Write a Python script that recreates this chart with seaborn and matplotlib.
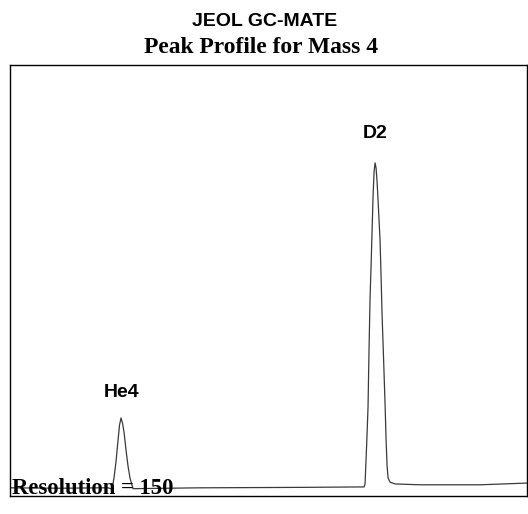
import matplotlib
matplotlib.use("Agg")
import matplotlib.pyplot as plt
import seaborn as sns
import pandas as pd

# Mass axis (amu) and relative intensity
mass = [3.99140, 3.99644, 4.00047, 4.00128,
        4.00168, 4.00188, 4.00208, 4.00229, 4.00244, 4.00259, 4.00274,
        4.00289, 4.00309, 4.00329, 4.00349, 4.00380,
        4.01055, 4.02063, 4.02668,
        4.02708, 4.02718, 4.02728, 4.02738, 4.02748, 4.02758, 4.02768,
        4.02779, 4.02789, 4.02799, 4.02809, 4.02819, 4.02829, 4.02839,
        4.02849, 4.02859, 4.02869, 4.02879, 4.02889, 4.02900, 4.02910,
        4.02920, 4.02930, 4.02940, 4.02950, 4.02970, 4.03020, 4.03272,
        4.03877, 4.04351]
intensity = [1.9, 1.8, 1.9, 1.9,
             1.6, 4.2, 7.9, 13.0, 16.5, 18.1, 16.9,
             14.8, 10.7, 7.0, 4.2, 1.7,
             1.9, 2.0, 2.1,
             2.1, 2.8, 8.4, 14.2, 20.6, 33.9, 45.5,
             53.6, 61.7, 69.8, 75.2, 77.3, 76.1, 72.9,
             68.7, 64.0, 59.4, 51.3, 42.5, 35.0, 28.1,
             21.1, 13.0, 7.0, 4.2, 3.2, 2.8, 2.6,
             2.6, 3.0]

peak_names = ["He4", "D2"]
peak_mass = [4.0026, 4.0282]
label_height = [23.9, 84.0]

title_top = "JEOL GC-MATE"
title_main = "Peak Profile for Mass 4"
note = "Resolution = 150"

df = pd.DataFrame({"mass": mass, "intensity": intensity})

sns.set_style("white")
plt.rcParams["font.family"] = ["Liberation Sans", "DejaVu Sans"]
plt.rcParams["text.color"] = "black"

W, H = 528, 514
fig = plt.figure(figsize=(W / 100, H / 100), dpi=100)
ax = fig.add_axes([10 / W, (H - 496) / H, 517 / W, 431 / H])

sns.lineplot(data=df, x="mass", y="intensity", ax=ax, color="#3a3a3a",
             linewidth=0.9, sort=False, estimator=None)

ax.set_xlim(3.9914, 4.0435)
ax.set_ylim(0, 100)
ax.set_xticks([])
ax.set_yticks([])
ax.set_xlabel("")
ax.set_ylabel("")
for s in ax.spines.values():
    s.set_visible(True)
    s.set_color("black")
    s.set_linewidth(1.0)

for name, m, h in zip(peak_names, peak_mass, label_height):
    ax.text(m, h, name, ha="center", va="center", fontsize=14,
            fontweight="bold", color="black",
            family=["Liberation Sans", "DejaVu Sans"])

ax.text(0.004, 0.005, note, transform=ax.transAxes, ha="left", va="baseline",
        fontsize=16.3, fontweight="bold", color="black",
        family=["Liberation Serif", "DejaVu Serif"])

fig.text(265 / W, 1 - 21 / H, title_top, ha="center", va="center",
         fontsize=14, fontweight="bold", color="black",
         family=["Liberation Sans", "DejaVu Sans"])
fig.text(261 / W, 1 - 53 / H, title_main, ha="center", va="baseline",
         fontsize=16.9, fontweight="bold", color="black",
         family=["Liberation Serif", "DejaVu Serif"])

fig.savefig("out.png", dpi=100)
